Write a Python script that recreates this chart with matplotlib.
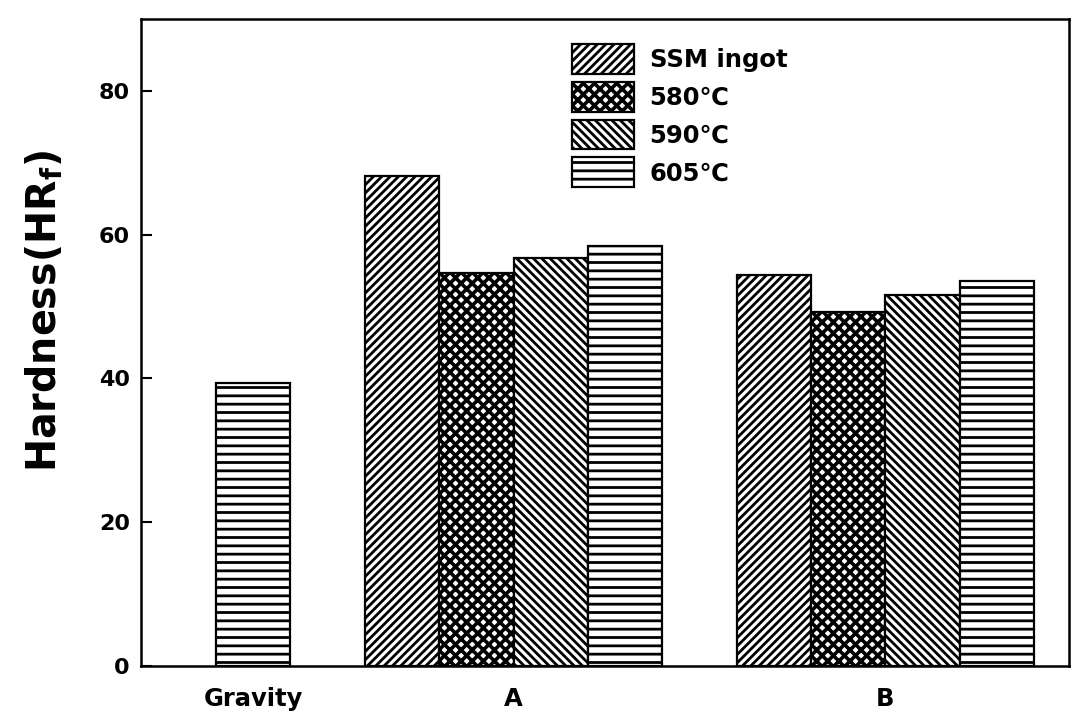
import numpy as np
import matplotlib
matplotlib.use("Agg")
import matplotlib.pyplot as plt

# data
groups = ["Gravity", "A", "B"]
series = ["SSM ingot", "580\u2103", "590\u2103", "605\u2103"]
ssm = [np.nan, 68.2, 54.4]
t580 = [np.nan, 54.7, 49.3]
t590 = [np.nan, 56.8, 51.6]
t605 = [39.4, 58.4, 53.6]
yticks = [0, 20, 40, 60, 80]

hatches = ["////", "xxx", "\\\\\\\\", "--"]
hatch_lw = [2.0, 2.6, 2.0, 2.0]
values = [ssm, t580, t590, t605]

plt.rcParams["font.family"] = ["DejaVu Sans"]
plt.rcParams["font.weight"] = "bold"
plt.rcParams["hatch.linewidth"] = 2.0
plt.rcParams["mathtext.fontset"] = "custom"
plt.rcParams["mathtext.bf"] = "DejaVu Sans:bold"
plt.rcParams["mathtext.rm"] = "DejaVu Sans:bold"
plt.rcParams["mathtext.it"] = "DejaVu Sans:bold"

fig = plt.figure(figsize=(10.77, 7.14), dpi=100)
ax = fig.add_axes([0.1309, 0.0672, 0.8617, 0.9062])

centers = np.array([-1.5, 3.5, 8.5])
offsets = np.array([-1.5, -0.5, 0.5, 1.5])
for k in range(4):
    bars = ax.bar(centers + offsets[k], values[k], width=1.0, color="white",
                  edgecolor="black", linewidth=1.6, hatch=hatches[k], label=series[k])
    for b in bars:
        if hasattr(b, "set_hatch_linewidth"):
            b.set_hatch_linewidth(hatch_lw[k])

# gravity label sits under its only bar
tick_pos = [centers[0] + offsets[3], centers[1], centers[2]]
ax.set_xticks(tick_pos)
ax.set_xticklabels(groups, fontsize=17.5, fontweight="bold")
ax.tick_params(axis="x", length=0, pad=15)

ax.set_yticks(yticks)
ax.tick_params(axis="y", direction="in", length=8, width=1.5, labelsize=16, pad=8)
ax.set_ylim(0, 90)
ax.set_xlim(-1.51, 10.97)

for s in ax.spines.values():
    s.set_linewidth(1.8)

ax.set_ylabel(r"Hardness(HR$_\mathbf{f}$)", fontsize=28.5, fontweight="bold")
ax.yaxis.set_label_coords(-0.081, 0.549)

leg = ax.legend(loc="upper left", bbox_to_anchor=(0.446, 0.987), frameon=False,
                fontsize=17.5, handlelength=2.55, handleheight=1.5, labelspacing=0.33,
                handletextpad=0.65, borderpad=0.2)
for k, h in enumerate(leg.legend_handles):
    if hasattr(h, "set_hatch_linewidth"):
        h.set_hatch_linewidth(hatch_lw[k])

fig.savefig("out.png", dpi=100)
